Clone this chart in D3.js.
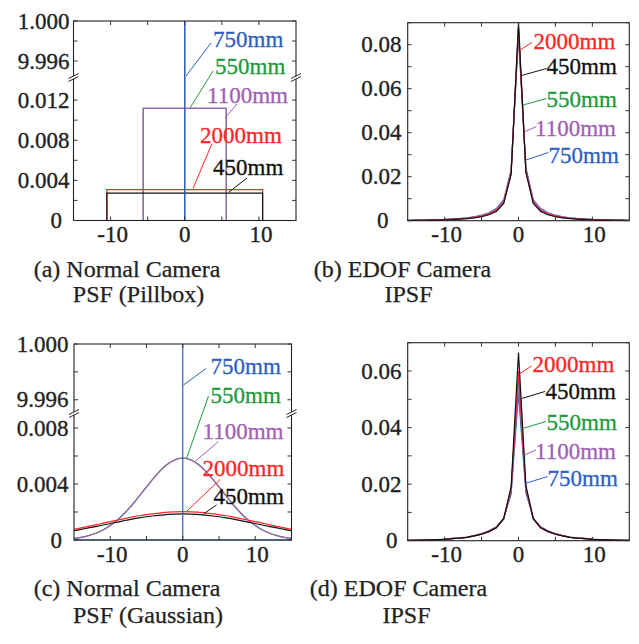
<!DOCTYPE html>
<html>
<head>
<meta charset="utf-8">
<script src="https://cdn.jsdelivr.net/npm/d3@7"></script>
<style>
  body { margin: 0; background: #fff; }
  svg { display: block; }
  text { font-family: "Liberation Serif", "Times New Roman", serif; fill: #222; }
</style>
</head>
<body>
<svg id="chart" width="639" height="644"></svg>
<script>
// pixel offsets sampled by the PSF curves
const offsets = [-15, -14, -13, -12, -11, -10, -9, -8, -7, -6, -5, -4, -3, -2, -1, 0,
  1, 2, 3, 4, 5, 6, 7, 8, 9, 10, 11, 12, 13, 14, 15];

const distances = ['450mm', '550mm', '750mm', '1100mm', '2000mm'];
const colors = {
  '450mm': '#111111',
  '550mm': '#1f9a3c',
  '750mm': '#2f5fbf',
  '1100mm': '#a15fb5',
  '2000mm': '#ff2626',
};

// (a) pillbox PSF: half width and height of each box
const pillboxRadius = { '450mm': 10.5, '550mm': 5.6, '750mm': 0, '1100mm': 5.6, '2000mm': 10.5 };
const pillboxHeight = { '450mm': 0.00273, '550mm': 0.01117, '750mm': 1.0, '1100mm': 0.01117, '2000mm': 0.00307 };

// (c) gaussian PSF
const gaussian450 = [0.00066, 0.00076, 0.00086, 0.00096, 0.00107, 0.00118, 0.00128, 0.00139, 0.00149, 0.00158,
  0.00166, 0.00173, 0.00178, 0.00183, 0.00185, 0.00186, 0.00185, 0.00183, 0.00178, 0.00173, 0.00166,
  0.00158, 0.00149, 0.00139, 0.00128, 0.00118, 0.00107, 0.00096, 0.00086, 0.00076, 0.00066];
const gaussian550 = [0.00012, 0.00019, 0.00031, 0.00048, 0.00071, 0.00103, 0.00144, 0.00193, 0.0025, 0.00314,
  0.00379, 0.00443, 0.00501, 0.00546, 0.00575, 0.00585, 0.00575, 0.00546, 0.00501, 0.00443, 0.00379,
  0.00314, 0.0025, 0.00193, 0.00144, 0.00103, 0.00071, 0.00048, 0.00031, 0.00019, 0.00012];
const gaussian1100 = [0.00012, 0.00019, 0.00031, 0.00048, 0.00071, 0.00103, 0.00143, 0.00192, 0.00249, 0.00313,
  0.00378, 0.00442, 0.005, 0.00545, 0.00574, 0.00584, 0.00574, 0.00545, 0.005, 0.00442, 0.00378,
  0.00313, 0.00249, 0.00192, 0.00143, 0.00103, 0.00071, 0.00048, 0.00031, 0.00019, 0.00012];
const gaussian2000 = [0.00076, 0.00086, 0.00097, 0.00108, 0.0012, 0.00131, 0.00142, 0.00153, 0.00163, 0.00173,
  0.00181, 0.00188, 0.00194, 0.00199, 0.00201, 0.00202, 0.00201, 0.00199, 0.00194, 0.00188, 0.00181,
  0.00173, 0.00163, 0.00153, 0.00142, 0.00131, 0.0012, 0.00108, 0.00097, 0.00086, 0.00076];
const spikeX = [-15, 0, 0, 0, 15];
const spikeY = [0, 0, 1.0, 0, 0];

// (b) EDOF IPSF, pillbox model
const ipsfB450 = [0.0001, 0.00015, 0.0002, 0.00025, 0.0003, 0.0004, 0.0005, 0.0007, 0.0009, 0.0013, 0.0018,
  0.0027, 0.0042, 0.0078, 0.021, 0.09, 0.022, 0.0078, 0.0042, 0.0027, 0.0018, 0.0013, 0.0009, 0.0007,
  0.0005, 0.0004, 0.0003, 0.00025, 0.0002, 0.00015, 0.0001];
const ipsfB550 = [0.00015, 0.0002, 0.00025, 0.0003, 0.0004, 0.0005, 0.0007, 0.0009, 0.0011, 0.0016, 0.0022,
  0.0032, 0.005, 0.0086, 0.022, 0.087, 0.023, 0.0086, 0.005, 0.0032, 0.0022, 0.0016, 0.0011, 0.0009,
  0.0007, 0.0005, 0.0004, 0.0003, 0.00025, 0.0002, 0.00015];
const ipsfB750 = [0.0002, 0.00025, 0.0003, 0.0004, 0.0005, 0.0006, 0.0008, 0.001, 0.0013, 0.0018, 0.0025,
  0.0036, 0.0055, 0.0095, 0.023, 0.084, 0.024, 0.0095, 0.0055, 0.0036, 0.0025, 0.0018, 0.0013, 0.001,
  0.0008, 0.0006, 0.0005, 0.0004, 0.0003, 0.00025, 0.0002];
const ipsfB1100 = [0.00015, 0.0002, 0.0003, 0.00035, 0.00045, 0.00055, 0.0007, 0.0009, 0.0012, 0.0017, 0.0023,
  0.0034, 0.0052, 0.009, 0.0225, 0.086, 0.0235, 0.009, 0.0052, 0.0034, 0.0023, 0.0017, 0.0012, 0.0009,
  0.0007, 0.00055, 0.00045, 0.00035, 0.0003, 0.0002, 0.00015];
const ipsfB2000 = [0.0001, 0.00015, 0.0002, 0.0003, 0.0004, 0.0005, 0.0006, 0.0008, 0.001, 0.0014, 0.002,
  0.003, 0.0046, 0.0082, 0.0215, 0.088, 0.0225, 0.0082, 0.0046, 0.003, 0.002, 0.0014, 0.001, 0.0008,
  0.0006, 0.0005, 0.0004, 0.0003, 0.0002, 0.00015, 0.0001];

// (d) EDOF IPSF, gaussian model
const ipsfD450 = [0.0001, 0.00015, 0.0002, 0.0003, 0.0004, 0.0005, 0.0007, 0.0009, 0.0012, 0.0017, 0.0023,
  0.0032, 0.0046, 0.0078, 0.019, 0.0665, 0.0195, 0.0078, 0.0046, 0.0032, 0.0023, 0.0017, 0.0012, 0.0009,
  0.0007, 0.0005, 0.0004, 0.0003, 0.0002, 0.00015, 0.0001];
const ipsfD550 = [0.0001, 0.00015, 0.0002, 0.0003, 0.0004, 0.0005, 0.0007, 0.0009, 0.0012, 0.0017, 0.0023,
  0.0033, 0.0047, 0.0077, 0.0178, 0.057, 0.0183, 0.0077, 0.0047, 0.0033, 0.0023, 0.0017, 0.0012, 0.0009,
  0.0007, 0.0005, 0.0004, 0.0003, 0.0002, 0.00015, 0.0001];
const ipsfD750 = [0.00015, 0.0002, 0.00025, 0.0003, 0.0004, 0.0006, 0.0008, 0.001, 0.0013, 0.0018, 0.0025,
  0.0035, 0.0049, 0.008, 0.0165, 0.052, 0.017, 0.008, 0.0049, 0.0035, 0.0025, 0.0018, 0.0013, 0.001,
  0.0008, 0.0006, 0.0004, 0.0003, 0.00025, 0.0002, 0.00015];
const ipsfD1100 = [0.0001, 0.00015, 0.0002, 0.0003, 0.0004, 0.0005, 0.0007, 0.0009, 0.0012, 0.0017, 0.0024,
  0.0034, 0.0048, 0.0079, 0.0175, 0.055, 0.018, 0.0079, 0.0048, 0.0034, 0.0024, 0.0017, 0.0012, 0.0009,
  0.0007, 0.0005, 0.0004, 0.0003, 0.0002, 0.00015, 0.0001];
const ipsfD2000 = [0.0001, 0.00015, 0.0002, 0.0003, 0.0004, 0.0005, 0.0007, 0.0009, 0.0012, 0.0017, 0.0023,
  0.0032, 0.0046, 0.0078, 0.0185, 0.06, 0.019, 0.0078, 0.0046, 0.0032, 0.0023, 0.0017, 0.0012, 0.0009,
  0.0007, 0.0005, 0.0004, 0.0003, 0.0002, 0.00015, 0.0001];

// tick values and labels
const xTicks = [-10, -5, 0, 5, 10];
const xTickLabels = [-10, 0, 10];
const yTicksA = [0, 0.002, 0.004, 0.006, 0.008, 0.01, 0.012, 0.996, 0.998, 1.0];
const yLabelValuesA = [0, 0.004, 0.008, 0.012, 0.996, 1.0];
const yLabelsA = ['0', '0.004', '0.008', '0.012', '9.996', '1.000'];
const yTicksC = [0, 0.002, 0.004, 0.006, 0.008, 0.996, 0.998, 1.0];
const yLabelValuesC = [0, 0.004, 0.008, 0.996, 1.0];
const yLabelsC = ['0', '0.004', '0.008', '9.996', '1.000'];
const yTicksB = [0, 0.01, 0.02, 0.03, 0.04, 0.05, 0.06, 0.07, 0.08, 0.09];
const yLabelValuesB = [0, 0.02, 0.04, 0.06, 0.08];
const yLabelsB = ['0', '0.02', '0.04', '0.06', '0.08'];
const yTicksD = [0, 0.01, 0.02, 0.03, 0.04, 0.05, 0.06, 0.07];
const yLabelValuesD = [0, 0.02, 0.04, 0.06];
const yLabelsD = ['0', '0.02', '0.04', '0.06'];

const captions = [
  ['(a) Normal Camera', 'PSF (Pillbox)'],
  ['(b) EDOF Camera', 'IPSF'],
  ['(c) Normal Camera', 'PSF (Gaussian)'],
  ['(d) EDOF Camera', 'IPSF'],
];

const svg = d3.select('#chart');

function pillboxPoints(d) {
  const r = pillboxRadius[d];
  const h = pillboxHeight[d];
  return [[-15, 0], [-r, 0], [-r, h], [r, h], [r, 0], [15, 0]];
}

function sampled(values) {
  return values.map((v, i) => [offsets[i], v]);
}

function spike() {
  return spikeX.map((x, i) => [x, spikeY[i]]);
}

const panels = [
  {
    box: [73.5, 21, 296, 220.5],
    broken: { lower: [0, 0.0143], upper: [0.9944, 1.0], at: 77 },
    yTicks: yTicksA, yLabelValues: yLabelValuesA, yLabels: yLabelsA,
    labelEnd: 69.5, zeroEnd: 62,
    series: [
      ['750mm', spike()],
      ['550mm', pillboxPoints('550mm')],
      ['1100mm', pillboxPoints('1100mm')],
      ['2000mm', pillboxPoints('2000mm')],
      ['450mm', pillboxPoints('450mm')],
      ['750mm', spike().slice(1, 4)],
    ],
    curve: d3.curveLinear,
    notes: [
      ['750mm', 213, 47, 186, 76, 211, 43],
      ['550mm', 215, 74, 190, 108, 213, 71],
      ['1100mm', 207, 102.5, 225, 118, 237, 104],
      ['2000mm', 200, 142.5, 193, 188.5, 212, 143.5],
      ['450mm', 213, 175, 229, 192, 247, 178],
    ],
    caption: [[127, 277], [138.5, 302]],
  },
  {
    box: [407.7, 22.7, 629.3, 220.7],
    yDomain: [0, 0.09],
    yTicks: yTicksB, yLabelValues: yLabelValuesB, yLabels: yLabelsB,
    labelEnd: 401.5, zeroEnd: 388.5,
    series: [
      ['550mm', sampled(ipsfB550)],
      ['750mm', sampled(ipsfB750)],
      ['1100mm', sampled(ipsfB1100)],
      ['2000mm', sampled(ipsfB2000)],
      ['450mm', sampled(ipsfB450)],
    ],
    curve: d3.curveLinear,
    notes: [
      ['2000mm', 533.5, 48.5, 520, 50, 532, 42.5],
      ['450mm', 546.5, 74, 521.5, 75.5, 546.5, 68.5],
      ['550mm', 546.5, 106.5, 523, 105, 546.5, 98.5],
      ['1100mm', 535, 136, 525, 131.5, 536.5, 126.5],
      ['750mm', 548.5, 162.5, 526, 160, 548.5, 152.5],
    ],
    caption: [[402.5, 277], [408.5, 302]],
  },
  {
    box: [74, 344, 291.5, 540],
    broken: { lower: [0, 0.00907], upper: [0.99505, 1.0], at: 413 },
    yTicks: yTicksC, yLabelValues: yLabelValuesC, yLabels: yLabelsC,
    labelEnd: 68.5, zeroEnd: 62,
    series: [
      ['550mm', sampled(gaussian550)],
      ['1100mm', sampled(gaussian1100)],
      ['2000mm', sampled(gaussian2000)],
      ['450mm', sampled(gaussian450)],
      ['750mm', spike()],
    ],
    curve: d3.curveMonotoneX,
    notes: [
      ['750mm', 210.5, 373.5, 183.5, 385, 206, 368.5],
      ['550mm', 210.5, 402.5, 186.5, 458.5, 208.5, 396],
      ['1100mm', 202.5, 438.5, 195, 461.5, 218.5, 441.5],
      ['2000mm', 202.5, 476, 186.5, 511.5, 220, 479.5],
      ['450mm', 213.5, 504, 203.5, 514, 216.5, 505],
    ],
    caption: [[127, 596], [148, 622.5]],
  },
  {
    box: [407.7, 342.7, 629.3, 540.7],
    yDomain: [0, 0.07],
    yTicks: yTicksD, yLabelValues: yLabelValuesD, yLabels: yLabelsD,
    labelEnd: 401.5, zeroEnd: 397.5,
    series: [
      ['550mm', sampled(ipsfD550)],
      ['750mm', sampled(ipsfD750)],
      ['1100mm', sampled(ipsfD1100)],
      ['2000mm', sampled(ipsfD2000)],
      ['450mm', sampled(ipsfD450)],
    ],
    curve: d3.curveLinear,
    notes: [
      ['2000mm', 532.5, 371.5, 520, 373.5, 531.5, 366],
      ['450mm', 545.5, 398.5, 521.5, 398.5, 545, 391.5],
      ['550mm', 546.5, 429.5, 522.5, 428.5, 546, 421.5],
      ['1100mm', 535, 458.5, 524, 455, 536, 450],
      ['750mm', 547.5, 486, 525, 483.5, 547.5, 476.5],
    ],
    caption: [[398.5, 596], [406.5, 622.5]],
  },
];

function drawPanel(p, index) {
  const [x0, y0, x1, y1] = p.box;
  const g = svg.append('g');

  const x = d3.scaleLinear().domain([-15, 15]).range([x0, x1]);
  let y;
  if (p.broken) {
    const lower = d3.scaleLinear().domain(p.broken.lower).range([y1, p.broken.at]);
    const upper = d3.scaleLinear().domain(p.broken.upper).range([p.broken.at, y0]);
    y = (v) => (v > 0.5 ? upper(v) : lower(v));
  } else {
    y = d3.scaleLinear().domain(p.yDomain).range([y1, y0]);
  }

  // curves
  const line = d3.line().x((d) => x(d[0])).y((d) => y(d[1])).curve(p.curve);
  g.selectAll('path.series')
    .data(p.series)
    .join('path')
    .attr('class', 'series')
    .attr('d', (d) => line(d[1]))
    .attr('fill', 'none')
    .attr('stroke', (d) => colors[d[0]])
    .attr('stroke-width', 1.2);

  // frame
  g.append('rect')
    .attr('x', x0).attr('y', y0)
    .attr('width', x1 - x0).attr('height', y1 - y0)
    .attr('fill', 'none')
    .attr('stroke', '#222')
    .attr('stroke-width', 1.1);

  // ticks, inward on all sides
  const tickLen = 4;
  xTicks.forEach((t) => {
    g.append('line').attr('x1', x(t)).attr('x2', x(t)).attr('y1', y1).attr('y2', y1 - tickLen)
      .attr('stroke', '#333');
    g.append('line').attr('x1', x(t)).attr('x2', x(t)).attr('y1', y0).attr('y2', y0 + tickLen)
      .attr('stroke', '#333');
  });
  p.yTicks.forEach((t) => {
    g.append('line').attr('x1', x0).attr('x2', x0 + tickLen).attr('y1', y(t)).attr('y2', y(t))
      .attr('stroke', '#333');
    g.append('line').attr('x1', x1).attr('x2', x1 - tickLen).attr('y1', y(t)).attr('y2', y(t))
      .attr('stroke', '#333');
  });

  // tick labels
  g.selectAll('text.xl')
    .data(xTickLabels)
    .join('text')
    .attr('class', 'xl')
    .attr('x', (d) => x(d) + (d === 0 ? 0 : 2))
    .attr('y', y1 + 21.5)
    .attr('text-anchor', 'middle')
    .attr('font-size', 23)
    .style('stroke', '#222')
    .style('stroke-width', 0.35)
    .text((d) => d);

  g.selectAll('text.yl')
    .data(p.yLabelValues)
    .join('text')
    .attr('class', 'yl')
    .attr('x', (d) => (d === 0 ? p.zeroEnd : p.labelEnd))
    .attr('y', (d) => y(d))
    .attr('dy', '0.33em')
    .attr('text-anchor', 'end')
    .attr('font-size', 23)
    .style('stroke', '#222')
    .style('stroke-width', 0.35)
    .text((d, i) => p.yLabels[i]);

  // axis break marks
  if (p.broken) {
    [x0, x1].forEach((bx) => {
      const by = p.broken.at;
      g.append('path')
        .attr('d', `M${bx - 5},${by + 1.5} L${bx + 5},${by - 3.5} L${bx + 5},${by - 0.5} L${bx - 5},${by + 4.5} Z`)
        .attr('fill', '#fff');
      g.append('line').attr('x1', bx - 5).attr('y1', by + 1.5).attr('x2', bx + 5).attr('y2', by - 3.5)
        .attr('stroke', '#222');
      g.append('line').attr('x1', bx - 5).attr('y1', by + 4.5).attr('x2', bx + 5).attr('y2', by - 0.5)
        .attr('stroke', '#222');
    });
  }

  // labels with leader lines
  p.notes.forEach(([name, tx, ty, lx1, ly1, lx2, ly2]) => {
    g.append('line')
      .attr('x1', lx1).attr('y1', ly1).attr('x2', lx2).attr('y2', ly2)
      .attr('stroke', colors[name])
      .attr('stroke-width', 1);
    g.append('text')
      .attr('x', tx).attr('y', ty)
      .attr('font-size', 23)
      .style('fill', colors[name])
      .style('stroke', colors[name])
      .style('stroke-width', 0.3)
      .text(name);
  });

  // caption
  captions[index].forEach((line, i) => {
    g.append('text')
      .attr('x', p.caption[i][0])
      .attr('y', p.caption[i][1])
      .attr('text-anchor', 'middle')
      .attr('font-size', 24)
      .style('stroke', '#222')
      .style('stroke-width', 0.25)
      .text(line);
  });
}

panels.forEach(drawPanel);
</script>
</body>
</html>
